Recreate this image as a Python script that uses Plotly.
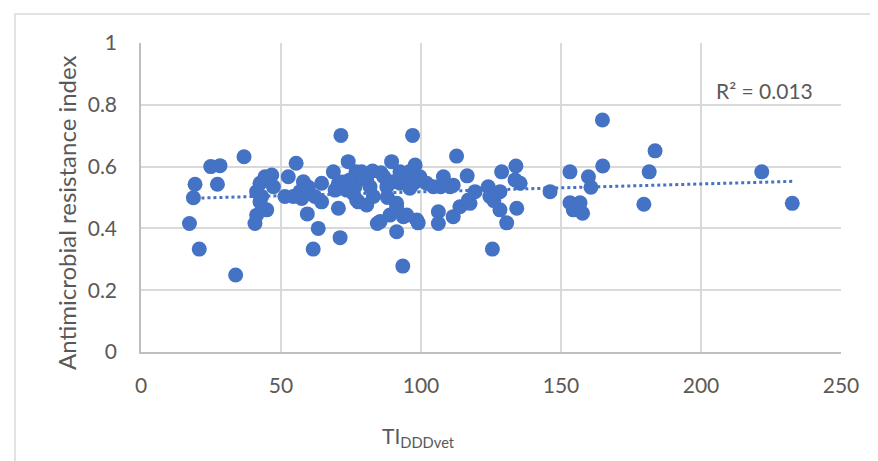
import numpy as np
import plotly.graph_objects as go

tidddvet = [
    17.3, 18.7, 19.3, 20.8, 24.9, 28.2, 27.3, 33.8, 36.8,
    40.7, 41.3, 42.5, 44.9, 41.3, 42.5, 44.3, 46.7, 47.3, 43.1,
    51.4, 52.6, 54.4, 55.4, 58.0, 59.8, 57.4, 59.8, 59.4, 56.8,
    61.5, 62.1, 63.3, 64.5, 64.5, 68.7, 69.3, 70.5, 70.5,
    71.4, 71.1, 74.0, 73.5, 75.8, 76.8, 77.5, 76.4, 77.0, 74.6, 72.0, 78.8, 77.6,
    80.6, 80.6, 81.8, 82.7, 83.0, 84.4, 85.7, 85.4, 86.7, 87.8, 88.9, 89.5, 88.0,
    90.0, 91.3, 91.3, 91.3, 92.5, 92.5, 93.5, 93.7, 93.9, 95.8, 96.7, 97.0, 97.9,
    98.5, 99.6, 99.0, 94.9, 96.0, 98.0,
    102.0, 104.4, 106.2, 106.2, 108.0, 107.0,
    110.4, 111.5, 112.7, 113.9, 116.5, 117.5, 116.9, 119.3, 111.5,
    124.0, 124.6, 125.5, 128.2, 128.2, 128.8, 130.6, 133.9, 133.6, 135.4, 134.2, 126.0,
    146.1, 153.2, 153.2, 154.4, 156.8, 157.7, 159.8, 160.7, 164.9, 164.8,
    179.6, 181.5, 183.6, 221.7, 232.6,
]
resistance_index = [
    0.416, 0.499, 0.543, 0.333, 0.600, 0.603, 0.543, 0.249, 0.632,
    0.416, 0.443, 0.486, 0.460, 0.519, 0.546, 0.567, 0.573, 0.535, 0.503,
    0.503, 0.567, 0.503, 0.611, 0.551, 0.513, 0.497, 0.533, 0.447, 0.519,
    0.333, 0.503, 0.400, 0.546, 0.486, 0.583, 0.524, 0.465, 0.546,
    0.701, 0.370, 0.616, 0.524, 0.513, 0.583, 0.578, 0.535, 0.492, 0.557, 0.550, 0.583, 0.486,
    0.476, 0.557, 0.535, 0.586, 0.503, 0.416, 0.580, 0.422, 0.567, 0.535, 0.443, 0.616, 0.500,
    0.551, 0.389, 0.481, 0.470, 0.546, 0.583, 0.278, 0.438, 0.578, 0.583, 0.540, 0.701, 0.605,
    0.427, 0.567, 0.418, 0.443, 0.530, 0.550,
    0.546, 0.535, 0.454, 0.416, 0.567, 0.535,
    0.535, 0.438, 0.634, 0.470, 0.570, 0.481, 0.492, 0.519, 0.540,
    0.535, 0.503, 0.333, 0.519, 0.460, 0.583, 0.418, 0.602, 0.557, 0.546, 0.465, 0.490,
    0.519, 0.583, 0.483, 0.460, 0.483, 0.449, 0.567, 0.533, 0.602, 0.751,
    0.478, 0.583, 0.651, 0.583, 0.481,
]
r2_label = "R² = 0.013"
x_title = "TI<sub>DDDvet</sub>"
y_title = "Antimicrobial resistance index"

xs = np.array(tidddvet)
ys = np.array(resistance_index)
slope, intercept = np.polyfit(xs, ys, 1)
trend_x = [xs.min(), xs.max()]
trend_y = [slope * v + intercept for v in trend_x]

blue = "#4472C4"
grey_text = "#595959"
font_family = "Lato, Carlito, Calibri, sans-serif"

fig = go.Figure()
fig.add_trace(go.Scatter(
    x=tidddvet, y=resistance_index, mode="markers",
    marker=dict(color=blue, size=15, line=dict(width=0)),
    showlegend=False, hoverinfo="x+y",
))
fig.add_trace(go.Scatter(
    x=trend_x, y=trend_y, mode="lines",
    line=dict(color=blue, width=3, dash="dot"),
    showlegend=False, hoverinfo="skip",
))

# page body has an 8px default margin, so the figure is drawn 8px smaller
fig.update_layout(
    width=870, height=453,
    margin=dict(l=133, r=37, t=35, b=109),
    paper_bgcolor="white", plot_bgcolor="white",
    font=dict(family=font_family, size=21, color=grey_text),
    xaxis=dict(
        range=[0, 250], dtick=50, tick0=0,
        showgrid=True, gridcolor="#d9d9d9", gridwidth=1.5,
        showline=True, linecolor="#bfbfbf", linewidth=1.5,
        zeroline=False, ticks="", ticklabelstandoff=14, automargin=False,
        tickfont=dict(family=font_family, size=21, color=grey_text),
        fixedrange=True,
    ),
    yaxis=dict(
        range=[0, 1], dtick=0.2, tick0=0,
        showgrid=True, gridcolor="#d9d9d9", gridwidth=1.5,
        showline=True, linecolor="#bfbfbf", linewidth=1.5,
        zeroline=False, ticks="", ticklabelstandoff=18, automargin=False,
        tickfont=dict(family=font_family, size=21, color=grey_text),
        fixedrange=True,
    ),
    shapes=[dict(
        type="rect", xref="paper", yref="paper",
        x0=-0.18, x1=1.07, y0=-0.40, y1=1.094,
        line=dict(color="#d9d9d9", width=1.5), layer="below",
    )],
    annotations=[
        dict(text=y_title, xref="paper", yref="paper", x=-0.1057, y=0.45,
             textangle=-90, showarrow=False, xanchor="center", yanchor="middle",
             font=dict(family=font_family, size=24, color=grey_text)),
        dict(text=x_title, xref="paper", yref="paper", x=0.397, y=-0.275,
             showarrow=False, xanchor="center", yanchor="middle",
             font=dict(family=font_family, size=21, color=grey_text)),
        dict(text=r2_label, xref="paper", yref="paper", x=0.891, y=0.845,
             showarrow=False, xanchor="center", yanchor="middle",
             font=dict(family=font_family, size=21, color=grey_text)),
    ],
)

fig.write_html("out.html", config=dict(displayModeBar=False))
